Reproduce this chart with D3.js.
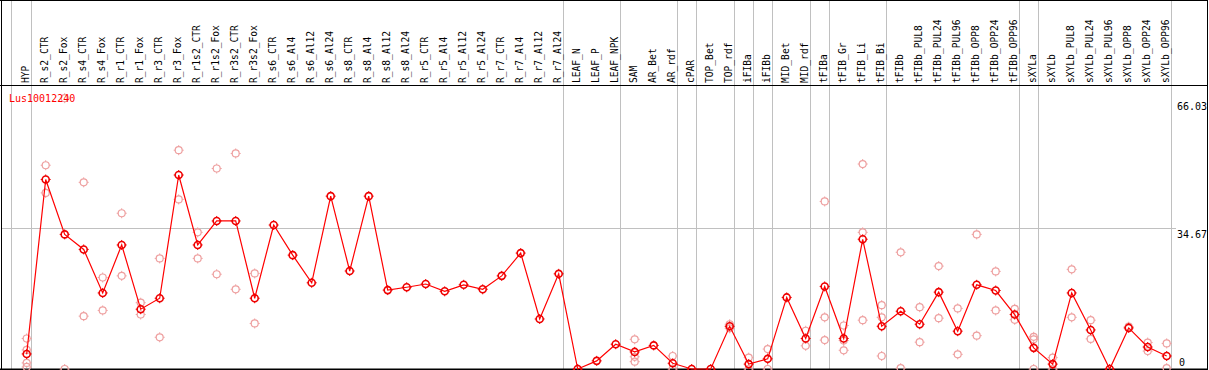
<!DOCTYPE html>
<html><head><meta charset="utf-8">
<script src="https://cdn.jsdelivr.net/npm/d3@7"></script>
<style>html,body{margin:0;padding:0;background:#fff;}svg{display:block;}</style>
</head><body>
<script>
const categories = ["HYP","R_s2_CTR","R_s2_Fox","R_s4_CTR","R_s4_Fox","R_r1_CTR","R_r1_Fox","R_r3_CTR","R_r3_Fox","R_r1s2_CTR","R_r1s2_Fox","R_r3s2_CTR","R_r3s2_Fox","R_s6_CTR","R_s6_Al4","R_s6_Al12","R_s6_Al24","R_s8_CTR","R_s8_Al4","R_s8_Al12","R_s8_Al24","R_r5_CTR","R_r5_Al4","R_r5_Al12","R_r5_Al24","R_r7_CTR","R_r7_Al4","R_r7_Al12","R_r7_Al24","LEAF_N","LEAF_P","LEAF_NPK","SAM","AR_Bet","AR_rdf","cPAR","TOP_Bet","TOP_rdf","iFIBa","iFIBb","MID_Bet","MID_rdf","tFIBa","tFIB_Gr","tFIB_Li","tFIB_Bi","tFIBb","tFIBb_PUL8","tFIBb_PUL24","tFIBb_PUL96","tFIBb_OPP8","tFIBb_OPP24","tFIBb_OPP96","sXYLa","sXYLb","sXYLb_PUL8","sXYLb_PUL24","sXYLb_PUL96","sXYLb_OPP8","sXYLb_OPP24","sXYLb_OPP96"];

const meanValues = [3.7,46.6,33.1,29.4,18.7,30.5,14.7,17.4,47.7,30.5,36.4,36.4,17.4,35.4,28.0,21.2,42.5,24.1,42.5,19.4,20.1,20.9,19.1,20.7,19.6,22.9,28.5,12.3,23.4,0,2.0,6.1,4.2,5.8,1.4,0,0,10.5,1.2,2.5,17.6,7.5,20.3,7.5,31.9,10.5,14.2,11.0,18.9,9.3,20.7,19.3,13.4,5.2,1.2,18.7,9.6,0,10.1,5.4,3.2];

const replicateValues = [
  [7.5,4.7,1.5,0.5],[50.1,43.3],[66.6,0],[45.9,13.0],[22.5,14.4],[38.3,22.9],[16.3,13.4],[27.2,7.8],[53.8,41.7],[33.6,27.2],[49.3,23.3],[53.0,19.6],[23.5,11.2],
  [],[],[],[],[],[],[],[],[],[],[],[],[],[],[],[],
  [],[],[],[7.3,3.0,1.8],[],[3.2,0],[],[],[11.0,10.0],[2.8,0],[4.9,0],[],[9.4,5.7],[41.2,12.7,7.1],[10.7,7.0,4.6],[50.4,33.6,12.0],[15.7,12.7,3.2],
  [28.7,0.2],[15.2,6.6],[25.3,12.5],[14.9,3.6],[33.1,8.2],[24.0,14.4],[14.8,12.1],[7.9,7.3,0],[2.8,0],[24.5,12.7],[12.0,7.4],[],[10.4],[6.5,4.4],[6.3,0.2]
];

const separatorsAfter = ["HYP","R_r7_Al24","LEAF_NPK","AR_rdf","cPAR","TOP_rdf","iFIBa","iFIBb","MID_rdf","tFIBa","tFIB_Bi","tFIBb_OPP96","sXYLa","sXYLb_OPP96"];
const yTickValues = [66.03, 34.67, 0];
const gridValues = [34.67];
const geneLabel = "Lus10012240";

const W = 1209, H = 370;
const svg = d3.select("body").append("svg").attr("width", W).attr("height", H);
const font = "DejaVu Sans Mono, monospace";

const x = d3.scalePoint().domain(categories).range([26.7, 1166.7]);
const y = d3.scaleLinear().domain([0, 34.67]).range([369, 228]);

// vertical separators
const sepX = [x(categories[0]) - 16].concat(separatorsAfter.map(c => x(c) + 4));
svg.append("g").selectAll("line").data(sepX).join("line")
  .attr("x1", d => Math.round(d) + 0.5).attr("x2", d => Math.round(d) + 0.5)
  .attr("y1", 0).attr("y2", H).attr("stroke", "#c0c0c0").attr("stroke-width", 1);

// horizontal grid
svg.append("g").selectAll("line").data(gridValues).join("line")
  .attr("x1", 1).attr("x2", 1176)
  .attr("y1", d => Math.round(y(d)) + 0.5).attr("y2", d => Math.round(y(d)) + 0.5)
  .attr("stroke", "#c0c0c0");

// frame
svg.append("line").attr("x1", 0).attr("x2", 1208).attr("y1", 0.5).attr("y2", 0.5).attr("stroke", "#000");
svg.append("line").attr("x1", 0).attr("x2", 1208).attr("y1", 85.5).attr("y2", 85.5).attr("stroke", "#000");
svg.append("line").attr("x1", 0).attr("x2", 1208).attr("y1", 369.5).attr("y2", 369.5).attr("stroke", "#000").attr("stroke-width", 2);
svg.append("line").attr("x1", 1.5).attr("x2", 1.5).attr("y1", 0).attr("y2", H).attr("stroke", "#000");
svg.append("line").attr("x1", 1207.5).attr("x2", 1207.5).attr("y1", 0).attr("y2", H).attr("stroke", "#000");

// header labels
svg.append("g").selectAll("text").data(categories).join("text")
  .attr("transform", d => `translate(${x(d) + 1.8},83) rotate(-90)`)
  .attr("font-family", font).attr("font-size", "9.6px").attr("fill", "#000")
  .text(d => d);

// right-side value labels
svg.append("g").selectAll("text").data(yTickValues).join("text")
  .attr("x", d => d === 0 ? 1179 : 1177)
  .attr("y", d => d === 0 ? 366 : Math.round(y(d)) + 10)
  .attr("font-family", font).attr("font-size", "10px").attr("fill", "#000")
  .text(d => d === 0 ? "0" : d.toFixed(2));

function marker(g, cx, cy, color, sw) {
  g.append("circle").attr("cx", cx).attr("cy", cy).attr("r", 3.5)
    .attr("fill", "none").attr("stroke", color).attr("stroke-width", sw);
  const t = [[0,-3.5,0,-5],[0,3.5,0,5],[-3.5,0,-5,0],[3.5,0,5,0]];
  t.forEach(p => g.append("line").attr("x1", cx + p[0]).attr("y1", cy + p[1])
    .attr("x2", cx + p[2]).attr("y2", cy + p[3]).attr("stroke", color).attr("stroke-width", 1));
}

// replicates
const repG = svg.append("g");
categories.forEach((c, i) => {
  replicateValues[i].forEach(v => marker(repG, x(c), y(v), "#eea0a0", 1.2));
});

// gene label
svg.append("text").attr("x", 9).attr("y", 102).attr("font-family", font)
  .attr("font-size", "10px").attr("fill", "#ff0000").text(geneLabel);

// mean line
const line = d3.line().x((d, i) => x(categories[i])).y(d => y(d));
svg.append("path").datum(meanValues).attr("d", line)
  .attr("fill", "none").attr("stroke", "#ff0000").attr("stroke-width", 1.2);

const meanG = svg.append("g");
categories.forEach((c, i) => marker(meanG, x(c), y(meanValues[i]), "#ee0000", 1.6));
</script>
</body></html>
